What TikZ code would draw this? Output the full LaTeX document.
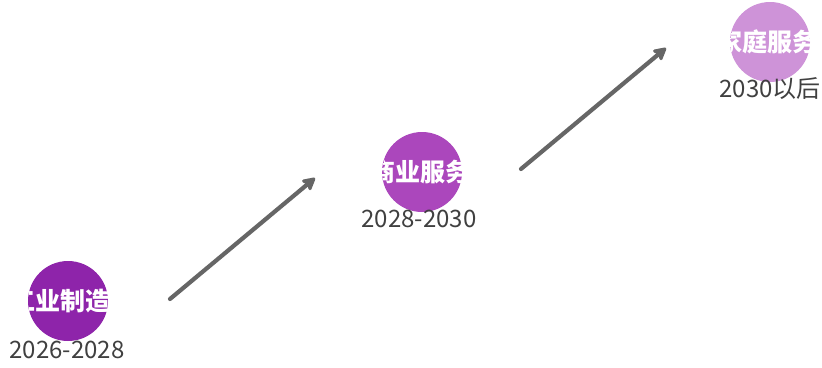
\documentclass[tikz,border=0pt]{standalone}
\usepackage{fontspec}
\newfontfamily\cjk{Noto Sans CJK SC}
\usetikzlibrary{arrows.meta}
\definecolor{pA}{HTML}{8E24AA}
\definecolor{pB}{HTML}{AB47BC}
\definecolor{pC}{HTML}{CE93D8}
\definecolor{lbl}{HTML}{404040}
\definecolor{arr}{HTML}{666666}
\tikzset{
  dot/.style={circle, minimum size=80pt, inner sep=0pt, draw=none},
  intext/.style={inner sep=0pt, text=white, font=\cjk\bfseries\fontsize{25}{25}\selectfont},
  lab/.style={inner sep=0pt, text=lbl, font=\cjk\fontsize{24}{24}\selectfont},
  flow/.style={draw=arr, line width=4.2pt, line cap=round, -{Stealth[length=15pt,width=16pt,round,inset=3pt]}}
}
\begin{document}
\begin{tikzpicture}[x=1pt,y=-1pt]
\useasboundingbox (0,0) rectangle (822,367);
\node[dot, fill=pA] (c1) at (68,301) {};
\node[dot, fill=pB] (c2) at (422,172) {};
\node[dot, fill=pC] (c3) at (770,42) {};
\begin{scope}
\clip (68,301) circle (40);
\node[intext] (t1) at (60,301) {工业制造};
\end{scope}
\begin{scope}
\clip (422,172) circle (40);
\node[intext] (t2) at (420,172) {商业服务};
\end{scope}
\begin{scope}
\clip (770,42) circle (40);
\node[intext] (t3) at (767,42) {家庭服务};
\end{scope}
\node[lab] (l1) at (67,350) {2026-2028};
\node[lab] (l2) at (419,219) {2028-2030};
\node[lab] (l3) at (770,89) {2030以后};
\coordinate (a1s) at (170,299);
\coordinate (a1e) at (315,178);
\coordinate (a2s) at (521,169);
\coordinate (a2e) at (666,48);
\draw[flow] (a1s) -- (a1e);
\draw[flow] (a2s) -- (a2e);
\end{tikzpicture}
\end{document}
